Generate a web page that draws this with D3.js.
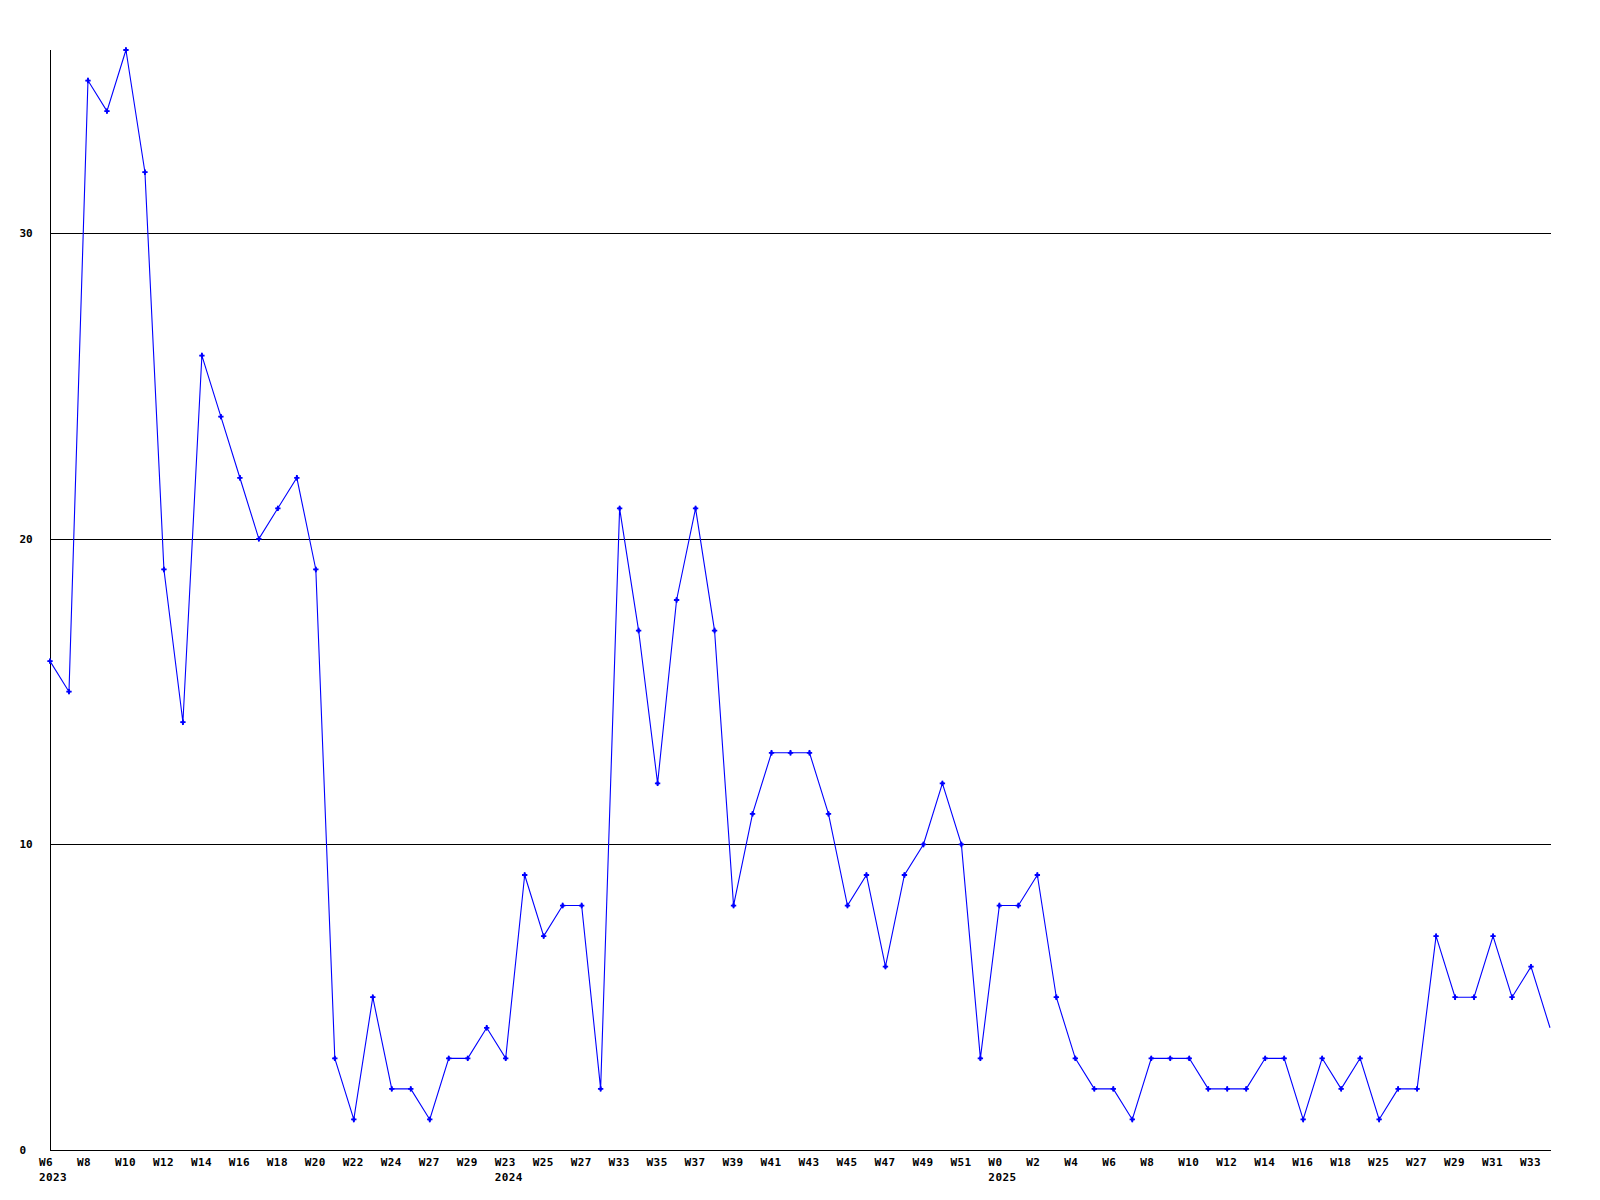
<!DOCTYPE html>
<html>
<head>
<meta charset="utf-8">
<script src="https://cdn.jsdelivr.net/npm/d3@7"></script>
<style>
  html, body { margin: 0; padding: 0; background: #fff; }
  svg { display: block; }
  text { font-family: "DejaVu Sans Mono", "Liberation Mono", monospace; font-weight: bold; font-size: 11px; fill: #000; }
</style>
</head>
<body>
<svg id="chart" width="1600" height="1200"></svg>
<script>
// Week categories (x axis), in order
const weeks = [
  "W6","W7","W8","W9","W10","W11","W12","W13","W14","W15",
  "W16","W17","W18","W19","W20","W21","W22","W23","W24","W25",
  "W27","W28","W29","W30","W23","W24","W25","W26","W27","W32",
  "W33","W34","W35","W36","W37","W38","W39","W40","W41","W42",
  "W43","W44","W45","W46","W47","W48","W49","W50","W51","W52",
  "W0","W1","W2","W3","W4","W5","W6","W7","W8","W9",
  "W10","W11","W12","W13","W14","W15","W16","W17","W18","W24",
  "W25","W26","W27","W28","W29","W30","W31","W32","W33","W34"
];
// Year shown under the first week of each year
const yearLabels = { 0: "2023", 24: "2024", 50: "2025" };
// Series values
const counts = [
  16,15,35,34,36,32,19,14,26,24,
  22,20,21,22,19,3,1,5,2,2,
  1,3,3,4,3,9,7,8,8,2,
  21,17,12,18,21,17,8,11,13,13,
  13,11,8,9,6,9,10,12,10,3,
  8,8,9,5,3,2,2,1,3,3,
  3,2,2,2,3,3,1,3,2,3,
  1,2,2,7,5,5,7,5,6,4
];
const yTicks = [0, 10, 20, 30];
const yMax = 36;

const svg = d3.select("#chart");
const pLeft = 50, pRight = 1550, pTop = 50, pBottom = 1150;

const x = d3.scaleLinear().domain([0, counts.length - 1]).range([pLeft, pRight]);
const y = d3.scaleLinear().domain([0, yMax]).range([pBottom, pTop]);

const g = svg.append("g").attr("shape-rendering", "crispEdges");

// Horizontal grid lines
g.selectAll("line.grid").data(yTicks.filter(d => d > 0)).enter().append("line")
  .attr("class", "grid")
  .attr("x1", pLeft).attr("x2", pRight + 1)
  .attr("y1", d => Math.round(y(d)) + 0.5).attr("y2", d => Math.round(y(d)) + 0.5)
  .attr("stroke", "#000").attr("stroke-width", 1);

// Axes lines
g.append("line").attr("x1", pLeft + 0.5).attr("x2", pLeft + 0.5).attr("y1", pTop).attr("y2", pBottom + 1)
  .attr("stroke", "#000");
g.append("line").attr("x1", pLeft).attr("x2", pRight + 1).attr("y1", pBottom + 0.5).attr("y2", pBottom + 0.5)
  .attr("stroke", "#000");

// Y tick labels
svg.selectAll("text.ylab").data(yTicks).enter().append("text")
  .attr("class", "ylab")
  .attr("x", 19.5)
  .attr("y", d => y(d))
  .attr("dy", "0.36em")
  .text(d => d);

// X tick labels (every second week)
const labelIdx = d3.range(0, counts.length, 2);
svg.selectAll("text.xlab").data(labelIdx).enter().append("text")
  .attr("class", "xlab")
  .attr("x", i => x(i) - 11)
  .attr("y", pBottom + 12)
  .attr("dy", "0.36em")
  .attr("letter-spacing", "0.4px")
  .text(i => weeks[i]);

svg.selectAll("text.year").data(Object.keys(yearLabels).map(Number)).enter().append("text")
  .attr("class", "year")
  .attr("x", i => x(i) - 11)
  .attr("y", pBottom + 27)
  .attr("dy", "0.36em")
  .attr("letter-spacing", "0.4px")
  .text(i => yearLabels[i]);

// Line
const line = d3.line().x((d, i) => x(i)).y(d => y(d));
svg.append("path")
  .datum(counts)
  .attr("d", line)
  .attr("fill", "none")
  .attr("stroke", "#0000ff")
  .attr("stroke-width", 1.1);

// Markers (not on the last point)
const mk = svg.append("g").attr("fill", "#0000ff");
const pts = counts.slice(0, counts.length - 1);
mk.selectAll("path.m1").data(pts).enter().append("path")
  .attr("transform", (d, i) => `translate(${x(i)},${y(d)})`)
  .attr("d", d3.symbol().type(d3.symbolCross).size(16));
mk.selectAll("path.m2").data(pts).enter().append("path")
  .attr("transform", (d, i) => `translate(${x(i)},${y(d)})`)
  .attr("d", d3.symbol().type(d3.symbolDiamond).size(10));
</script>
</body>
</html>
